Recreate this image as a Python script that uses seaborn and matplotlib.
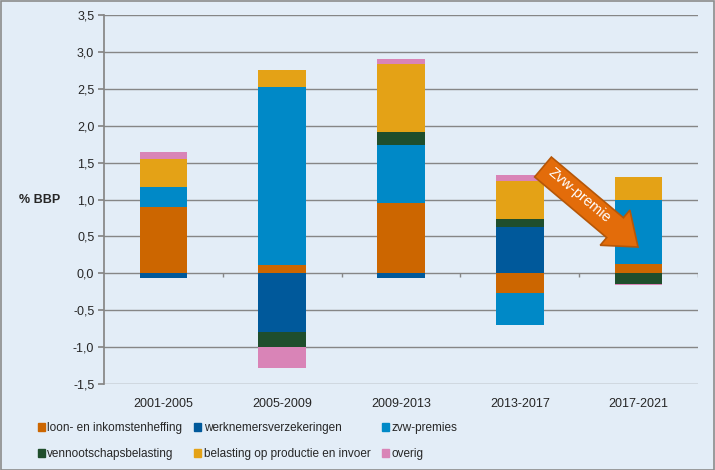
import numpy as np
import seaborn as sns
import matplotlib.pyplot as plt
from matplotlib.patches import Patch, FancyArrow, Rectangle
from matplotlib.ticker import FuncFormatter

# data (% BBP)
periods = ['2001-2005', '2005-2009', '2009-2013', '2013-2017', '2017-2021']
loon = [0.90, 0.11, 0.95, -0.27, 0.12]
werknemers = [-0.07, -0.79, -0.07, 0.63, 0.0]
zvw = [0.27, 2.42, 0.79, -0.43, 0.87]
vpb = [0.0, -0.21, 0.18, 0.10, -0.14]
belasting = [0.38, 0.22, 0.92, 0.52, 0.31]
overig = [0.09, -0.29, 0.06, 0.08, -0.02]

series_names = ['loon- en inkomstenheffing', 'werknemersverzekeringen', 'zvw-premies',
                'vennootschapsbelasting', 'belasting op productie en invoer', 'overig']
series_vals = [loon, werknemers, zvw, vpb, belasting, overig]
colors = ['#cc6600', '#00599b', '#0089c7', '#1f4e2c', '#e4a216', '#d984b7']

bg = '#e3edf7'
sns.set_theme(style='white')
plt.rcParams['font.family'] = ['Liberation Sans', 'DejaVu Sans']

fig = plt.figure(figsize=(7.15, 4.7), dpi=100, facecolor=bg)
ax = fig.add_axes([0.1455, 0.183, 0.8308, 0.785])
ax.set_facecolor(bg)

pos_bottom = np.zeros(len(periods))
neg_bottom = np.zeros(len(periods))
for name, vals, c in zip(series_names, series_vals, colors):
    vals = np.array(vals)
    bottoms = np.where(vals >= 0, pos_bottom, neg_bottom)
    sns.barplot(x=periods, y=vals, bottom=bottoms, color=c, saturation=1,
                width=0.4, ax=ax, zorder=3, linewidth=0, edgecolor='none')
    pos_bottom += np.clip(vals, 0, None)
    neg_bottom += np.clip(vals, None, 0)

ax.set_ylim(-1.5, 3.5)
ax.set_xlim(-0.5, 4.5)
ax.set_yticks(np.arange(-1.5, 3.51, 0.5))
ax.yaxis.set_major_formatter(FuncFormatter(lambda v, p: f'{v:.1f}'.replace('.', ',')))
ax.grid(axis='y', color='#868686', lw=1)
ax.grid(axis='x', visible=False)
ax.set_axisbelow(True)
for s in ['top', 'right', 'bottom']:
    ax.spines[s].set_visible(False)
ax.spines['left'].set_color('#868686')
ax.tick_params(axis='y', left=True, length=4, color='#868686', pad=3, labelsize=9)
ax.tick_params(axis='x', bottom=False, pad=4, labelsize=9)
ax.set_xlabel('')
ax.set_ylabel('')
# category axis at zero with boundary ticks
ax.vlines(np.arange(0.5, 5, 1), -0.055, 0, color='#868686', lw=1, zorder=2)

fig.text(40 / 715, 1 - 200 / 470, '% BBP', fontsize=9, fontweight='bold',
         ha='center', va='center')

# legend fills column by column, so interleave to get the row order
order = [0, 3, 1, 4, 2, 5]
handles = [Patch(color=colors[i]) for i in order]
labels = [series_names[i] for i in order]
fig.legend(handles, labels, ncol=3, loc='upper left',
           bbox_to_anchor=(0.053, 1 - 422 / 470), frameon=False, fontsize=8.5,
           handlelength=0.6, handleheight=0.6, handletextpad=0.2,
           columnspacing=1.0, labelspacing=1.2, borderpad=0, borderaxespad=0)

# arrow annotation
tr = fig.dpi_scale_trans
arrow = FancyArrow(5.43, 4.70 - 1.67, 0.95, -0.80, width=0.26, head_width=0.46,
                   head_length=0.30, length_includes_head=True,
                   facecolor='#e36c0a', edgecolor='#b65708', lw=1.2,
                   transform=tr, zorder=10)
fig.patches.append(arrow)
fig.text(5.79, 4.70 - 1.95, 'Zvw-premie', transform=tr, rotation=-40,
         rotation_mode='anchor', ha='center', va='center', color='white',
         fontsize=10.5, zorder=11)

fig.patches.append(Rectangle((0.001, 0.001), 0.998, 0.997, transform=fig.transFigure,
                             fill=False, edgecolor='#8c8c8c', lw=1.2))

fig.savefig('out.png', dpi=100, facecolor=bg)
